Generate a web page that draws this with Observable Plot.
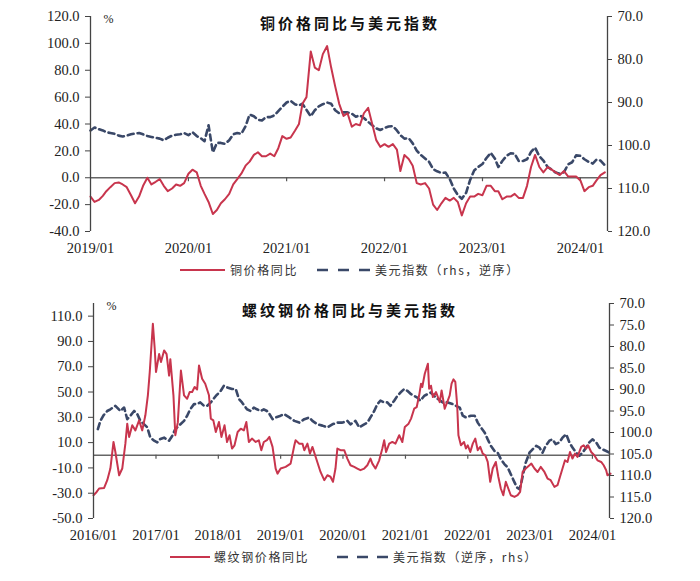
<!DOCTYPE html>
<html><head><meta charset="utf-8">
<script src="https://cdn.jsdelivr.net/npm/d3@7"></script>
<script src="https://cdn.jsdelivr.net/npm/@observablehq/plot@0.6"></script>
<style>
body{margin:0;background:#fff;}
#root{position:relative;width:700px;height:581px;overflow:hidden;background:#fff;}
.panel{position:absolute;left:0;}
.title{position:absolute;left:0;width:700px;text-align:center;font-family:"Noto Sans CJK SC",sans-serif;font-weight:700;font-size:15px;line-height:15px;letter-spacing:3px;color:#111;}
.lg{position:absolute;font-family:"Noto Sans CJK SC",sans-serif;font-size:12px;line-height:12px;letter-spacing:1.6px;color:#333;white-space:nowrap;}
.sw{position:absolute;}
</style></head>
<body><div id="root"></div>
<script>
// ---------- Top panel data (half-monthly from 2019-01-01) ----------
const topStart = "2019-01-01";
const copperYoY = [
-14,-18,-16.5,-13.5,-10,-7,-4,-3.5,-5,-7,
-13,-19,-14,-6,0,-5,-3,-1,-6,-10,
-8,-5,-6,-4,3,6,4,-6,-12,-18,
-27,-24,-19,-16,-12,-5,-1,3,9,12,
17,19,16,16,18,16,22,31,29,30,
35,40,55,60,94,82,80,92,98,82,
68,55,46,48,38,40,39,48,52,40,
28,23,25,23,25,21,5,17,14,9,
-4,-5,-4,-8,-20,-24,-19,-15,-17,-15,
-18,-28,-19,-14,-14,-12,-13,-6,-6,-10,
-10,-16,-14,-14,-12,-15,-15,-6,8,17,
8,4,8,6,4,2,5,1,1,1,
-2,-10,-7,-6,-2,2,4];
const dxyTop = [
96.5,95.8,96.2,96.5,96.9,97.1,97.3,97.7,97.9,97.7,
97.4,97.2,97.1,97.4,97.8,98.0,98.2,98.4,98.8,98.2,
97.7,97.5,97.4,97.1,97.6,96.9,97.8,98.3,99.0,95.3,
101.6,99.4,99.4,99.6,98.8,97.4,97.1,97.3,95.5,92.8,
93.2,94.0,94.2,93.4,93.4,93.0,92.0,91.0,90.0,89.6,
90.4,90.7,90.3,91.7,93.2,91.8,90.9,90.4,90.0,90.3,
91.8,92.5,92.3,92.3,92.6,93.3,93.0,93.6,94.5,95.3,
96.0,96.4,95.9,95.6,95.5,96.5,97.6,98.4,98.3,99.5,
101.2,102.2,103.0,103.8,105.5,106.0,106.4,106.3,107.8,110.0,
111.5,112.4,111.0,108.0,105.8,105.0,104.3,102.9,101.7,103.0,
105.0,103.6,102.4,101.8,101.9,103.6,103.6,103.2,101.5,100.5,
102.5,103.5,105.0,105.6,106.3,106.6,106.2,104.4,103.9,102.3,
102.4,103.2,103.8,104.2,103.3,103.5,104.6];
const topLeftTicks = [-40,-20,0,20,40,60,80,100,120];
const topRightTicks = [70,80,90,100,110,120];
const topYears = ["2019-01-01","2020-01-01","2021-01-01","2022-01-01","2023-01-01","2024-01-01"];

// ---------- Bottom panel data (decimal years) ----------
const rebarT = [2016.00,2016.05,2016.09,2016.17,2016.22,2016.27,2016.32,2016.35,2016.41,2016.46,
2016.51,2016.54,2016.57,2016.62,2016.67,2016.73,2016.78,2016.83,2016.87,2016.90,
2016.95,2016.98,2017.00,2017.05,2017.08,2017.13,2017.17,2017.21,2017.23,2017.28,
2017.31,2017.35,2017.40,2017.45,2017.50,2017.54,2017.58,2017.62,2017.66,2017.69,
2017.74,2017.79,2017.85,2017.88,2017.92,2017.96,2018.01,2018.05,2018.10,2018.14,
2018.18,2018.22,2018.26,2018.31,2018.36,2018.41,2018.45,2018.49,2018.54,2018.60,
2018.65,2018.69,2018.73,2018.78,2018.82,2018.87,2018.92,2018.95,2019.00,2019.08,
2019.16,2019.22,2019.24,2019.30,2019.35,2019.38,2019.43,2019.47,2019.51,2019.57,
2019.64,2019.70,2019.75,2019.80,2019.84,2019.88,2019.91,2019.96,2020.02,2020.07,
2020.12,2020.18,2020.23,2020.28,2020.34,2020.39,2020.44,2020.47,2020.52,2020.58,
2020.63,2020.66,2020.69,2020.74,2020.79,2020.84,2020.90,2020.95,2020.99,2021.05,
2021.09,2021.14,2021.18,2021.22,2021.25,2021.27,2021.31,2021.36,2021.38,2021.41,
2021.44,2021.49,2021.51,2021.55,2021.58,2021.63,2021.67,2021.71,2021.74,2021.77,
2021.80,2021.83,2021.85,2021.89,2021.94,2021.97,2022.00,2022.04,2022.08,2022.12,
2022.16,2022.20,2022.24,2022.28,2022.32,2022.36,2022.40,2022.45,2022.49,2022.53,
2022.57,2022.61,2022.65,2022.69,2022.75,2022.80,2022.84,2022.88,2022.93,2022.99,
2023.02,2023.07,2023.12,2023.17,2023.23,2023.28,2023.33,2023.39,2023.44,2023.48,
2023.52,2023.56,2023.60,2023.64,2023.68,2023.72,2023.76,2023.82,2023.86,2023.90,
2023.93,2023.98,2024.03,2024.08,2024.14,2024.18,2024.22,2024.24,2024.29];
const rebarYoY = [-31.6,-29,-26.3,-25.8,-19.7,-10.5,10.5,2.6,-15.8,-10.5,
9.2,25,14.5,23.7,19.7,27.6,19.7,31.6,47.4,65.8,
104,84,65.8,80,73.7,82.9,80,63,76,47.4,
15.8,26,67,47.4,44.7,50,50,54,52,71,
60.5,56.6,47.4,29,27.6,18.4,26.3,14.5,23.7,10.5,
15.8,5.3,7.9,18.4,21,19.7,26.3,10.5,13.2,10.5,
11.8,4,10.5,12,14.5,6.6,-10.5,-14.5,-10.5,-9.2,
-6.6,7.9,11.8,9.2,9.2,4,9.2,1.3,6.6,-2.6,
-13.2,-19.7,-15.8,-17,-21,-10.5,5.3,4,4,-2.6,
-7.9,-9.2,-10.5,-11.8,-10.5,-7.9,-2.6,-6.6,-10.5,-4,
5.3,11.8,2.6,9.2,10.5,9.2,15.8,10.5,22.4,25,
29,36.8,38,47.4,56.6,54,64.5,72.4,52.6,55,
46,50,47.4,42,51.3,36.8,42,47.4,56.6,60,
58,39.5,15.8,7.9,10.5,5.3,7.9,2.6,9.2,13.2,
4,6.6,1.3,0,-5.3,-21,-10.5,-5.3,-17,-26.3,
-31.6,-21,-26.3,-31.6,-32.9,-31.6,-29,-13.2,-10.5,-7.9,
-6.6,-10.5,-13.2,-9.2,-13.2,-18.4,-19.7,-25,-23.7,-17,
-10.5,-4,-5.3,2.6,-2.6,1.3,-1.3,6.6,7.9,5.3,
7.9,2.6,0,-4,-5.3,-7.9,-11.8,-15.8,-14.5];
const dxyBotT = [2016.07,2016.11,2016.16,2016.22,2016.27,2016.35,2016.43,2016.49,2016.54,2016.59,
2016.65,2016.70,2016.75,2016.81,2016.86,2016.91,2016.97,2017.02,2017.07,2017.13,
2017.21,2017.26,2017.31,2017.37,2017.45,2017.50,2017.55,2017.61,2017.66,2017.71,
2017.77,2017.82,2017.88,2017.96,2018.04,2018.09,2018.14,2018.22,2018.28,2018.33,
2018.38,2018.46,2018.52,2018.57,2018.62,2018.68,2018.73,2018.78,2018.82,2018.87,
2018.92,2019.00,2019.05,2019.14,2019.22,2019.30,2019.38,2019.46,2019.51,2019.59,
2019.67,2019.75,2019.83,2019.91,2019.99,2020.07,2020.12,2020.20,2020.26,2020.34,
2020.39,2020.44,2020.50,2020.55,2020.60,2020.66,2020.71,2020.76,2020.82,2020.87,
2020.92,2020.98,2021.03,2021.09,2021.14,2021.19,2021.24,2021.30,2021.35,2021.41,
2021.46,2021.52,2021.60,2021.68,2021.76,2021.81,2021.87,2021.92,2021.97,2022.05,
2022.11,2022.16,2022.21,2022.27,2022.32,2022.37,2022.43,2022.48,2022.53,2022.59,
2022.64,2022.69,2022.75,2022.79,2022.83,2022.86,2022.90,2022.93,2022.99,2023.04,
2023.10,2023.15,2023.20,2023.25,2023.31,2023.36,2023.41,2023.47,2023.52,2023.58,
2023.63,2023.68,2023.74,2023.79,2023.84,2023.90,2023.95,2024.00,2024.06,2024.11,
2024.16,2024.22,2024.27];
const dxyBot = [99.2,97.3,96.0,95.0,94.6,93.8,95.0,94.2,96.9,96.1,
95.0,95.7,97.3,98.1,98.8,101.2,101.9,102.3,101.5,101.2,
101.9,100.8,99.2,98.4,97.3,96.1,94.6,93.4,93.4,93.0,
93.8,93.8,93.0,91.5,90.3,89.1,89.5,89.9,89.9,92.2,
93.0,94.6,95.0,94.2,94.6,95.0,94.6,95.0,95.7,96.9,
96.5,96.1,95.7,96.5,97.3,97.7,96.9,96.5,97.3,98.1,
98.4,98.8,98.1,97.7,97.7,97.3,98.1,97.3,98.8,98.1,
97.7,96.5,95.0,93.4,92.6,93.0,93.0,93.8,92.6,91.5,
90.7,89.9,90.3,91.1,91.5,91.9,92.6,91.5,91.1,90.7,
91.5,92.2,93.0,93.0,93.4,93.8,94.2,96.1,96.5,96.1,
96.1,97.7,98.8,100.0,101.6,103.1,104.3,104.7,106.2,107.4,
108.1,109.7,111.6,112.8,113.2,111.6,108.9,107.0,104.7,103.9,
103.1,103.5,104.7,103.1,101.9,101.6,102.7,102.3,101.2,100.4,
102.3,103.5,104.7,105.4,104.7,103.5,102.3,101.6,102.3,103.5,
103.9,104.3,104.7];
const botLeftTicks = [-50,-30,-10,10,30,50,70,90,110];
const botRightTicks = [70,75,80,85,90,95,100,105,110,115,120];
const botYears = ["2016-01-01","2017-01-01","2018-01-01","2019-01-01","2020-01-01","2021-01-01","2022-01-01","2023-01-01","2024-01-01"];

// ---------- helpers ----------
const RED = "#C8354D", BLUE = "#3A4868", AXIS = "#444";
const SERIF = "Liberation Serif, Times New Roman, serif";
function halfMonthDate(start, i){
  const s = new Date(start);
  return new Date(Date.UTC(s.getUTCFullYear(), s.getUTCMonth() + Math.floor(i/2), i % 2 ? 16 : 1));
}
function yearDate(t){
  const y = Math.floor(t), a = Date.UTC(y,0,1), b = Date.UTC(y+1,0,1);
  return new Date(a + (t - y) * (b - a));
}
const fmtYM = d3.utcFormat("%Y/%m");

function makePanel({series1, series2, xDomain, yDomain, rDomain, leftTicks, rightTicks, years, mLeft, mRight}) {
  const [l0, l1] = yDomain, [r0, r1] = rDomain;
  const toLeft = v => l1 - (v - r0) * (l1 - l0) / (r1 - r0);
  const fromLeft = y => r0 + (l1 - y) * (r1 - r0) / (l1 - l0);
  const yearDates = years.map(s => new Date(s));
  const tickLen = 4 * (l1 - l0) / 215;
  return Plot.plot({
    width: 700, height: 262,
    marginLeft: mLeft, marginRight: mRight, marginTop: 16, marginBottom: 31,
    style: {fontFamily: SERIF, fontSize: "14.5px", color: "#222", background: "transparent"},
    x: {type: "utc", domain: xDomain},
    y: {domain: yDomain},
    marks: [
      Plot.ruleY([0], {stroke: "#666", strokeWidth: 1.4}),
      Plot.ruleX(yearDates.slice(1), {x: d => d, y1: 0, y2: -tickLen, stroke: "#555", strokeWidth: 1.2}),
      Plot.line(series2, {x: "date", y: d => toLeft(d.v), stroke: BLUE, strokeWidth: 2.6, strokeDasharray: "6,4"}),
      Plot.line(series1, {x: "date", y: "v", stroke: RED, strokeWidth: 2}),
      Plot.ruleX([xDomain[0]], {stroke: AXIS, strokeWidth: 1.3}),
      Plot.ruleX([xDomain[1]], {stroke: AXIS, strokeWidth: 1.3}),
      Plot.axisY(leftTicks, {anchor: "left", tickFormat: d => d.toFixed(1), tickSize: 5, tickPadding: 6, label: null, stroke: AXIS}),
      Plot.axisY(rightTicks.map(toLeft), {anchor: "right", tickFormat: d => fromLeft(d).toFixed(1), tickSize: 4, tickPadding: 6, label: null, stroke: AXIS}),
      Plot.axisX(yearDates, {anchor: "bottom", tickFormat: fmtYM, tickSize: 0, tickPadding: 11, label: null}),
      Plot.text(["%"], {frameAnchor: "top-left", dx: 13, dy: -2, fontSize: 12, fill: "#222"})
    ]
  });
}

const root = document.getElementById("root");

const copperData = copperYoY.map((v, i) => ({date: halfMonthDate(topStart, i), v}));
const dxyTopData = dxyTop.map((v, i) => ({date: halfMonthDate(topStart, i), v}));
const topSvg = makePanel({
  series1: copperData, series2: dxyTopData,
  xDomain: [new Date("2019-01-01"), new Date("2024-04-11")],
  yDomain: [-40, 120], rDomain: [70, 120],
  leftTicks: topLeftTicks, rightTicks: topRightTicks, years: topYears,
  mLeft: 90, mRight: 93
});
topSvg.classList.add("panel"); topSvg.style.top = "0px";
root.appendChild(topSvg);

const rebarData = rebarT.map((t, i) => ({date: yearDate(t), v: rebarYoY[i]}));
const dxyBotData = dxyBotT.map((t, i) => ({date: yearDate(t), v: dxyBot[i]}));
const botSvg = makePanel({
  series1: rebarData, series2: dxyBotData,
  xDomain: [new Date("2016-01-01"), new Date("2024-04-10")],
  yDomain: [-50, 120], rDomain: [70, 120],
  leftTicks: botLeftTicks, rightTicks: botRightTicks, years: botYears,
  mLeft: 93, mRight: 91
});
botSvg.classList.add("panel"); botSvg.style.top = "287px";
root.appendChild(botSvg);

function addDiv(cls, text, css){ const d = document.createElement("div"); d.className = cls; d.textContent = text; Object.assign(d.style, css); root.appendChild(d); return d; }
addDiv("title", "铜价格同比与美元指数", {top: "15px"});
addDiv("title", "螺纹钢价格同比与美元指数", {top: "302px"});

function swatch(x, y, w, color, dash, sw){
  const ns = "http://www.w3.org/2000/svg";
  const s = document.createElementNS(ns, "svg");
  s.setAttribute("width", w); s.setAttribute("height", 6); s.setAttribute("class", "sw");
  s.style.left = x + "px"; s.style.top = (y - 3) + "px";
  const l = document.createElementNS(ns, "line");
  l.setAttribute("x1", 0); l.setAttribute("x2", w); l.setAttribute("y1", 3); l.setAttribute("y2", 3);
  l.setAttribute("stroke", color); l.setAttribute("stroke-width", sw);
  if (dash) l.setAttribute("stroke-dasharray", dash);
  s.appendChild(l); root.appendChild(s);
}
swatch(180, 270, 45, RED, null, 2);
addDiv("lg", "铜价格同比", {left: "230px", top: "264px"});
swatch(317, 270, 56, BLUE, "11,10", 2.6);
addDiv("lg", "美元指数（rhs，逆序）", {left: "375px", top: "264px"});

swatch(170, 557, 40, RED, null, 2);
addDiv("lg", "螺纹钢价格同比", {left: "214px", top: "551px"});
swatch(337, 557, 52, BLUE, "11,9", 2.6);
addDiv("lg", "美元指数（逆序，rhs）", {left: "393px", top: "551px"});
</script>
</body></html>
